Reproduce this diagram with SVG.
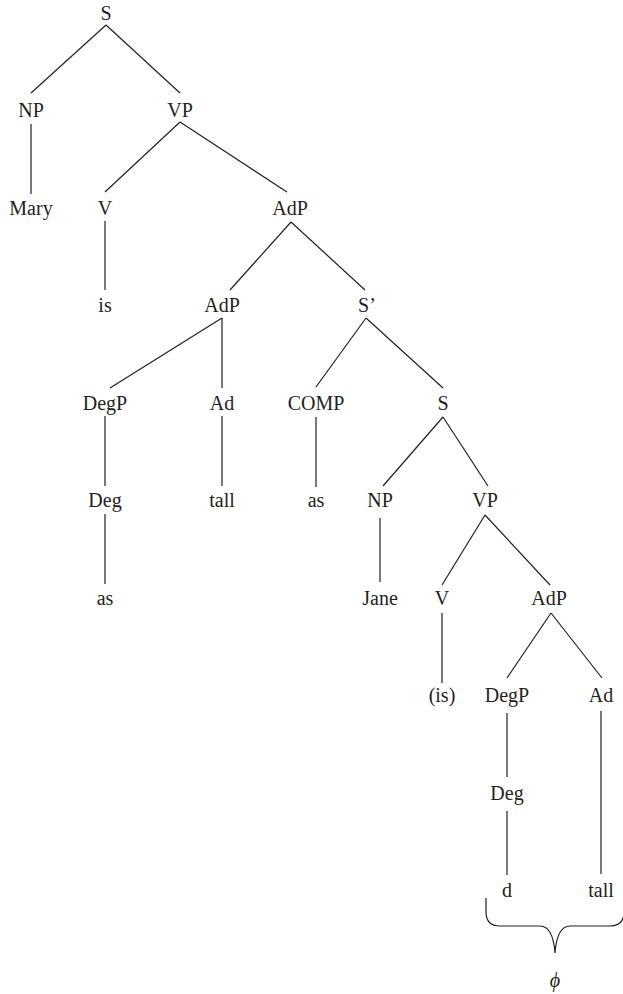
<svg xmlns="http://www.w3.org/2000/svg" width="623" height="994" viewBox="0 0 623 994">
<style>
text{font-family:"Liberation Serif","Times New Roman",serif;font-size:20px;fill:#231f20;text-anchor:middle}
.e line,.e path{stroke:#231f20;stroke-width:1.2;fill:none}
</style>
<rect width="623" height="994" fill="#fff"/>
<g class="e" id="connectors">
<line x1="106" y1="25" x2="31" y2="93"/>
<line x1="106" y1="25" x2="180" y2="93"/>
<line x1="31" y1="124" x2="31" y2="194"/>
<line x1="180" y1="122" x2="105" y2="192"/>
<line x1="180" y1="122" x2="287" y2="192"/>
<line x1="105" y1="221" x2="105" y2="290"/>
<line x1="291" y1="222" x2="230" y2="290"/>
<line x1="291" y1="222" x2="365" y2="290"/>
<line x1="222" y1="318" x2="110" y2="388"/>
<line x1="222" y1="318" x2="222" y2="388"/>
<line x1="366" y1="318" x2="316" y2="387"/>
<line x1="366" y1="318" x2="443" y2="388"/>
<line x1="105" y1="416" x2="105" y2="486"/>
<line x1="222" y1="416" x2="222" y2="486"/>
<line x1="316" y1="417" x2="316" y2="487"/>
<line x1="443" y1="417" x2="383" y2="486"/>
<line x1="443" y1="417" x2="488" y2="486"/>
<line x1="105" y1="514" x2="105" y2="584"/>
<line x1="380" y1="518" x2="380" y2="582"/>
<line x1="485" y1="515" x2="442" y2="585"/>
<line x1="485" y1="515" x2="550" y2="585"/>
<line x1="442" y1="613" x2="442" y2="683"/>
<line x1="551" y1="613" x2="507" y2="678"/>
<line x1="551" y1="613" x2="602" y2="678"/>
<line x1="507" y1="713" x2="507" y2="777"/>
<line x1="601" y1="711" x2="601" y2="874"/>
<line x1="507" y1="811" x2="507" y2="875"/>
<path d="M486,898 L486,912 Q486,926 500,926 L540,926 Q553,926 555,953 Q557,926 570,926 L610,926 Q624,926 624,912 L624,898"/>
</g>
<g id="n-S"><text x="106" y="20">S</text></g>
<g id="n-NP1"><text x="31" y="117">NP</text></g>
<g id="n-VP1"><text x="180" y="117">VP</text></g>
<g id="n-Mary"><text x="31" y="215">Mary</text></g>
<g id="n-V1"><text x="105" y="215">V</text></g>
<g id="n-AdP1"><text x="290" y="215">AdP</text></g>
<g id="n-is"><text x="105" y="312">is</text></g>
<g id="n-AdP2"><text x="222" y="312">AdP</text></g>
<g id="n-Sprime"><text x="367" y="312">S’</text></g>
<g id="n-DegP1"><text x="105" y="410">DegP</text></g>
<g id="n-Ad1"><text x="222" y="410">Ad</text></g>
<g id="n-COMP"><text x="316" y="410">COMP</text></g>
<g id="n-S2"><text x="443" y="410">S</text></g>
<g id="n-Deg1"><text x="105" y="507">Deg</text></g>
<g id="n-tall1"><text x="222" y="507">tall</text></g>
<g id="n-as1"><text x="316" y="507">as</text></g>
<g id="n-NP2"><text x="380" y="507">NP</text></g>
<g id="n-VP2"><text x="485" y="507">VP</text></g>
<g id="n-as2"><text x="105" y="605">as</text></g>
<g id="n-Jane"><text x="380" y="605">Jane</text></g>
<g id="n-V2"><text x="442" y="605">V</text></g>
<g id="n-AdP3"><text x="549" y="605">AdP</text></g>
<g id="n-is2"><text x="442" y="702">(is)</text></g>
<g id="n-DegP2"><text x="507" y="702">DegP</text></g>
<g id="n-Ad2"><text x="601" y="702">Ad</text></g>
<g id="n-Deg2"><text x="507" y="800">Deg</text></g>
<g id="n-d"><text x="507" y="897">d</text></g>
<g id="n-tall2"><text x="601" y="897">tall</text></g>
<g id="n-phi"><text x="555" y="987" font-style="italic">ϕ</text></g>
</svg>
